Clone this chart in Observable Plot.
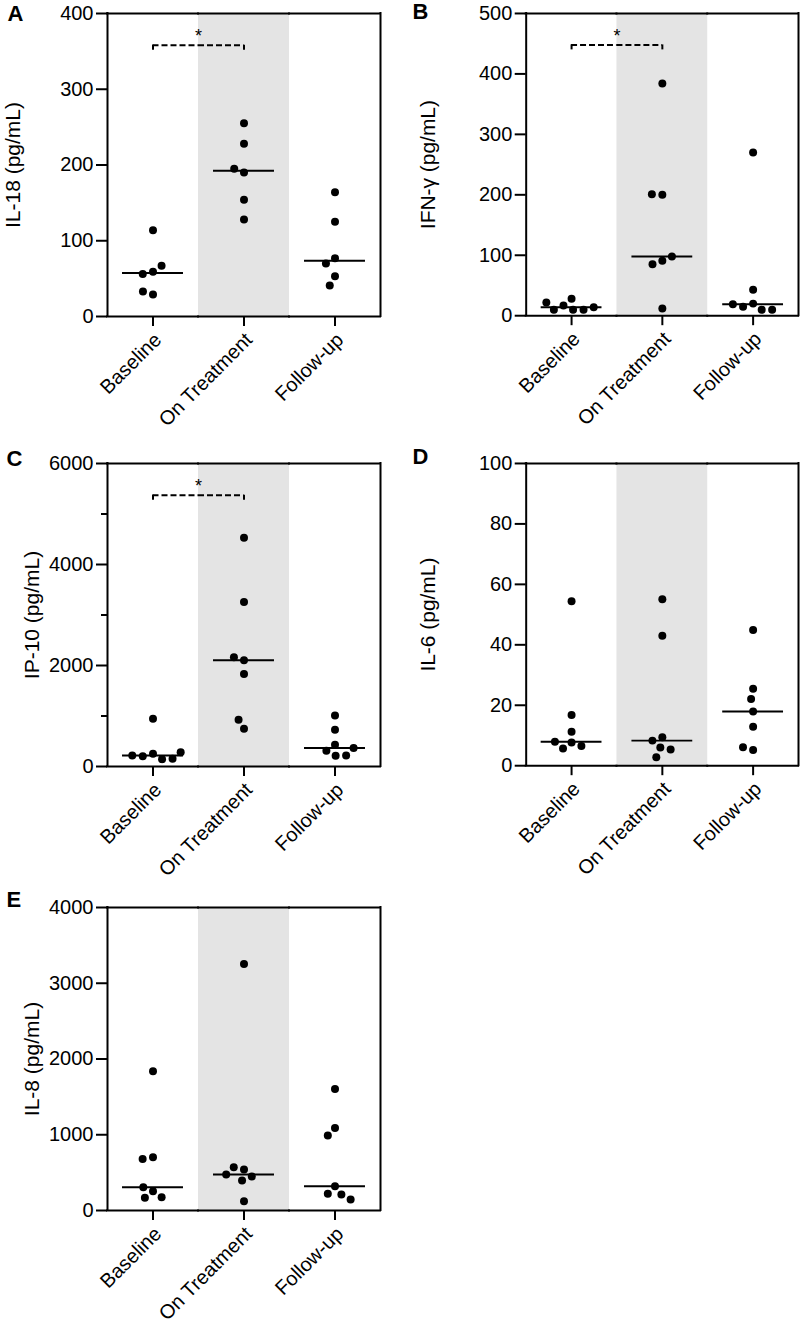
<!DOCTYPE html>
<html>
<head>
<meta charset="utf-8">
<script src="https://cdn.jsdelivr.net/npm/d3@7"></script>
<script src="https://cdn.jsdelivr.net/npm/@observablehq/plot@0.6"></script>
<style>
  html, body { margin: 0; padding: 0; background: #fff; }
  #root { position: relative; width: 800px; height: 1325px; overflow: hidden; background: #fff; }
  .panel { position: absolute; }
</style>
</head>
<body>
<div id="root"></div>
<script>
// ---------- data ----------
const categories = ["Baseline", "On Treatment", "Follow-up"];

// IL-18 (pg/mL)
const il18Baseline    = [114, 59, 56, 67, 29, 33];
const il18OnTreatment = [255, 228, 190, 195, 154, 128];
const il18FollowUp    = [164, 125, 77, 70, 53, 41];
const il18Ticks = [0, 100, 200, 300, 400];

// IFN-γ (pg/mL)
const ifngBaseline    = [28, 17, 10, 10, 10, 14, 22];
const ifngOnTreatment = [384, 200, 201, 91, 85, 98, 12];
const ifngFollowUp    = [270, 43, 20, 15, 10, 10, 19];
const ifngTicks = [0, 100, 200, 300, 400, 500];

// IP-10 (pg/mL)
const ip10Baseline    = [946, 251, 205, 146, 152, 218, 284];
const ip10OnTreatment = [4531, 3255, 2104, 2163, 1832, 748, 926];
const ip10FollowUp    = [1012, 728, 430, 311, 212, 218, 364];
const ip10Ticks = [0, 2000, 4000, 6000];
const ip10MinorTicks = [1000, 3000, 5000];

// IL-6 (pg/mL)
const il6Baseline    = [54.4, 16.8, 11.2, 7.7, 5.7, 6.5, 7.9];
const il6OnTreatment = [55.1, 43, 9.4, 8.3, 6.0, 5.4, 2.8];
const il6FollowUp    = [44.9, 25.5, 22.1, 17.9, 12.9, 5.2, 6.1];
const il6Ticks = [0, 20, 40, 60, 80, 100];

// IL-8 (pg/mL)
const il8Baseline    = [1837, 703, 681, 255, 167, 176, 308];
const il8OnTreatment = [3253, 541, 571, 448, 475, 396, 123];
const il8FollowUp    = [1604, 1090, 989, 321, 220, 211, 145];
const il8Ticks = [0, 1000, 2000, 3000, 4000];

// significance brackets (Baseline vs On Treatment, p < 0.05)
const sigLevels = {A: 358, B: 448, C: 5370};

// ---------- panel definitions ----------
const panels = [
  {letter: "A", label: "IL-18 (pg/mL)", series: [il18Baseline, il18OnTreatment, il18FollowUp], ticks: il18Ticks, minor: []},
  {letter: "B", label: "IFN-γ (pg/mL)", series: [ifngBaseline, ifngOnTreatment, ifngFollowUp], ticks: ifngTicks, minor: []},
  {letter: "C", label: "IP-10 (pg/mL)", series: [ip10Baseline, ip10OnTreatment, ip10FollowUp], ticks: ip10Ticks, minor: ip10MinorTicks},
  {letter: "D", label: "IL-6 (pg/mL)", series: [il6Baseline, il6OnTreatment, il6FollowUp], ticks: il6Ticks, minor: []},
  {letter: "E", label: "IL-8 (pg/mL)", series: [il8Baseline, il8OnTreatment, il8FollowUp], ticks: il8Ticks, minor: []}
];

// layout (page placement of each panel)
const layout = {
  A: {left: 0,   top: 0,   marginLeft: 107, letterDx: -100, letterDy: 7,  labelDx: -94},
  B: {left: 400, top: 0,   marginLeft: 126, letterDx: -114, letterDy: 6,  labelDx: -98},
  C: {left: 0,   top: 450, marginLeft: 107, letterDx: -101, letterDy: 2,  labelDx: -75},
  D: {left: 400, top: 450, marginLeft: 126, letterDx: -114, letterDy: 1,  labelDx: -98},
  E: {left: 0,   top: 894, marginLeft: 107, letterDx: -101, letterDy: -1, labelDx: -75}
};

const FONT = "'Liberation Sans', Arial, Helvetica, sans-serif";
const innerW = 273, innerH = 303, marginTop = 13, marginBottom = 116, marginRight = 2;
const root = document.getElementById("root");
const fmt = d3.format("d");

for (const p of panels) {
  const L = layout[p.letter];
  const ymax = p.ticks[p.ticks.length - 1];
  const rows = categories.flatMap((c, i) => p.series[i].map(v => ({cat: c, value: v})));
  const medians = categories.map((c, i) => ({cat: c, median: d3.median(p.series[i])}));
  const sig = sigLevels[p.letter];
  const tickLen = ymax * 5 / innerH; // 5px bracket end ticks in data units

  const marks = [
    // shaded on-treatment band
    Plot.rect([{cat: "On Treatment"}], {fx: "cat", y1: 0, y2: ymax, fill: "#e4e4e4"}),
    // y axis
    Plot.axisY(p.ticks, {tickSize: 11, tickPadding: 3, strokeWidth: 2, fontSize: 20, tickFormat: fmt, label: null}),
    ...(p.minor.length ? [Plot.axisY(p.minor, {tickSize: 6, strokeWidth: 2, tickFormat: () => "", label: null})] : []),
    // x ticks
    Plot.axisFx({anchor: "bottom", tickSize: 10, strokeWidth: 2, tickFormat: () => "", label: null}),
    // x labels
    Plot.text(categories, {fx: d => d, text: d => d, frameAnchor: "bottom", rotate: -45,
      textAnchor: "end", lineAnchor: "middle", dx: 5, dy: 20, fontSize: 20}),
    // medians
    Plot.ruleY(medians, {fx: "cat", y: "median", x1: 0.165, x2: 0.835, strokeWidth: 2, stroke: "black"}),
    // points
    Plot.dot(rows, Plot.dodgeX({anchor: "middle", padding: 2.5},
      {fx: "cat", y: "value", r: 4, fill: "black", stroke: "none"})),
    // frame box
    Plot.ruleY([0, ymax], {strokeWidth: 2, stroke: "black", strokeLinecap: "square"}),
    Plot.ruleX([{cat: "Baseline", x: 0}, {cat: "Follow-up", x: 1}],
      {fx: "cat", x: "x", y1: 0, y2: ymax, strokeWidth: 2, stroke: "black", strokeLinecap: "square"}),
    // y label
    Plot.text([p.label], {fx: () => "Baseline", text: d => d, frameAnchor: "left", rotate: -90,
      textAnchor: "middle", lineAnchor: "middle", dx: L.labelDx, fontSize: 21}),
    // panel letter
    Plot.text([p.letter], {fx: () => "Baseline", text: d => d, frameAnchor: "top-left",
      textAnchor: "start", lineAnchor: "bottom", dx: L.letterDx, dy: L.letterDy, fontSize: 22, fontWeight: "bold"})
  ];

  if (sig !== undefined) {
    marks.push(
      Plot.ruleY([{cat: "Baseline", y: sig, a: 0.5, b: 1}, {cat: "On Treatment", y: sig, a: 0, b: 0.5}],
        {fx: "cat", y: "y", x1: "a", x2: "b", strokeWidth: 2, strokeDasharray: "6,3", stroke: "black"}),
      Plot.ruleX([{cat: "Baseline", y: sig}, {cat: "On Treatment", y: sig}],
        {fx: "cat", x: 0.5, y1: "y", y2: d => d.y - tickLen, strokeWidth: 2, stroke: "black"}),
      Plot.text([{cat: "On Treatment", y: sig}], {fx: "cat", x: 0, y: "y", text: () => "*",
        lineAnchor: "bottom", dy: -3, fontSize: 18})
    );
  }

  const chart = Plot.plot({
    width: L.marginLeft + innerW + marginRight,
    height: marginTop + innerH + marginBottom,
    marginLeft: L.marginLeft, marginRight, marginTop, marginBottom,
    style: {fontFamily: FONT, fontSize: "20px", color: "#000", background: "transparent", overflow: "visible"},
    fx: {domain: categories, padding: 0, axis: null},
    x: {domain: [0, 1], axis: null},
    y: {domain: [0, ymax], axis: null},
    marks
  });

  const wrap = document.createElement("div");
  wrap.className = "panel";
  wrap.style.left = L.left + "px";
  wrap.style.top = L.top + "px";
  wrap.appendChild(chart);
  root.appendChild(wrap);
}
</script>
</body>
</html>
